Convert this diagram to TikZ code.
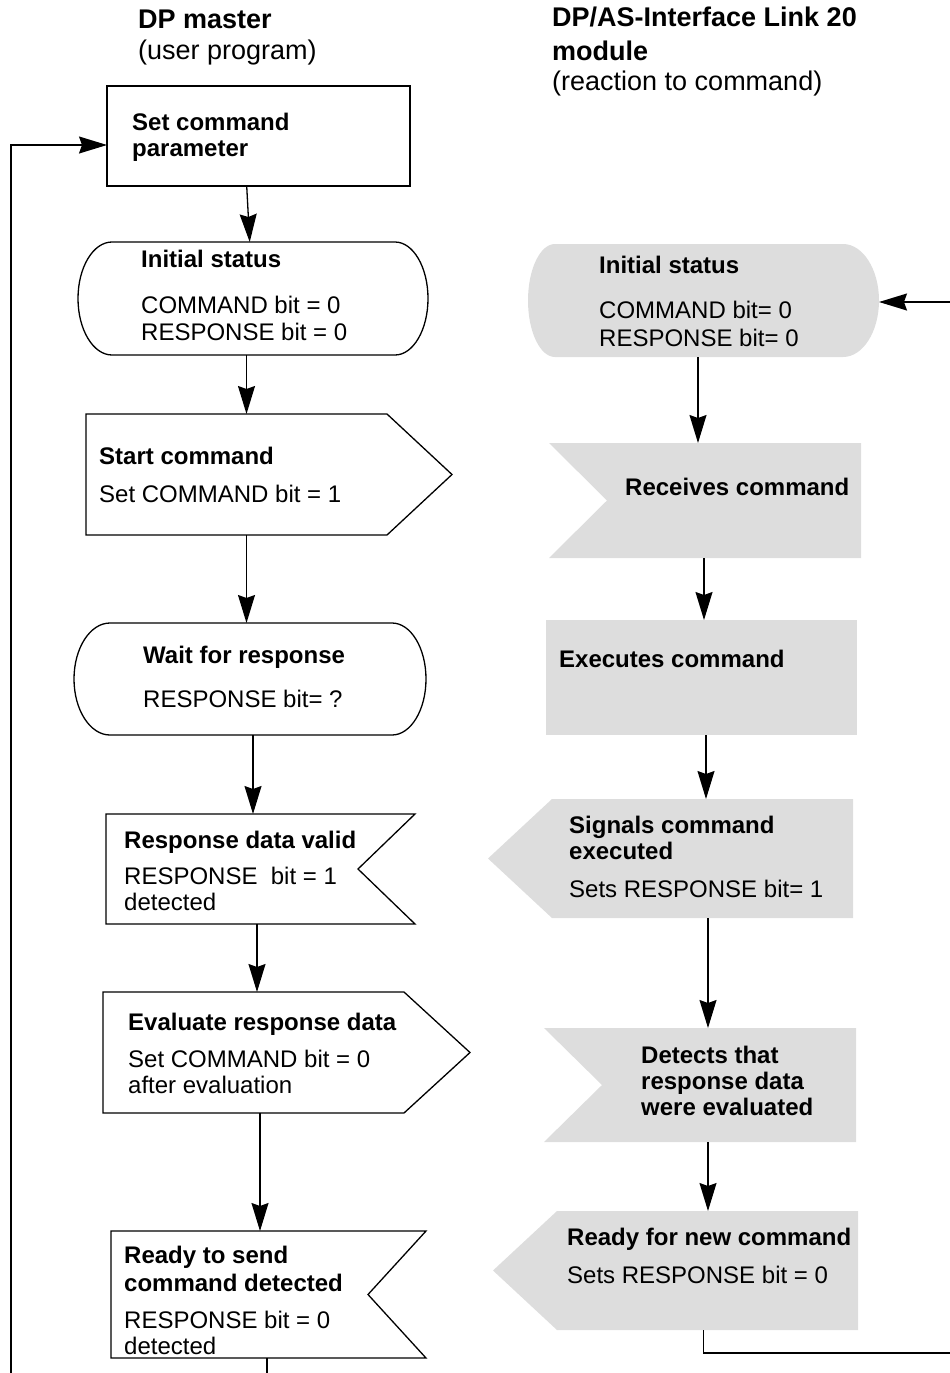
\documentclass[tikz,border=0pt]{standalone}
\usepackage{fontspec}
\setmainfont{Liberation Sans}
\usetikzlibrary{arrows.meta}
\definecolor{lgray}{RGB}{221,221,221}
\begin{document}
\begin{tikzpicture}[x=1pt,y=-1pt,
  outl/.style={draw=black, line width=1.3pt, line join=miter},
  hold/.style={draw=none, inner sep=0pt, outer sep=0pt},
  conn/.style={-{Stealth[length=28pt,width=17pt,inset=3pt]}, line width=1.3pt},
  plain/.style={line width=1.3pt},
  bt/.style={font=\fontsize{24}{26}\selectfont\bfseries, anchor=base west, inner sep=0pt},
  nt/.style={font=\fontsize{24}{26}\selectfont, anchor=base west, inner sep=0pt},
  hbt/.style={font=\fontsize{27}{30}\selectfont\bfseries, anchor=base west, inner sep=0pt},
  hnt/.style={font=\fontsize{27}{30}\selectfont, anchor=base west, inner sep=0pt}]
\useasboundingbox (0,0) rectangle (950,1373);

% ---------- headers ----------
\node[hbt] (h1) at (138,28) {DP master};
\node[hnt] (h2) at (138,59) {(user program)};
\node[hbt] (h3) at (552,27) {DP/AS-Interface Link 20};
\node[hbt] (h4) at (552,60) {module};
\node[hnt] (h5) at (552,90) {(reaction to command)};

% ---------- left column shapes ----------
\node[hold, draw=black, line width=1.3pt, minimum width=303pt, minimum height=100pt] (L1) at (258.5,136) {};
\node[hold, minimum width=350pt, minimum height=113pt] (L2) at (253,298.5) {};
\draw[outl] (112,242) -- (395,242) arc[start angle=90, end angle=-90, x radius=33pt, y radius=56.5pt]
  -- (112,355) arc[start angle=270, end angle=90, x radius=34pt, y radius=56.5pt] -- cycle;
\node[hold, minimum width=366pt, minimum height=121pt] (L3) at (269,474.5) {};
\draw[outl] (86,414) -- (387,414) -- (452,474.5) -- (387,535) -- (86,535) -- cycle;
\node[hold, minimum width=352pt, minimum height=112pt] (L4) at (250,679) {};
\draw[outl] (110,623) -- (392,623) arc[start angle=90, end angle=-90, x radius=34pt, y radius=56pt]
  -- (110,735) arc[start angle=270, end angle=90, x radius=36pt, y radius=56pt] -- cycle;
\node[hold, minimum width=309pt, minimum height=110pt] (L5) at (260.5,869) {};
\draw[outl] (106,814) -- (415,814) -- (358,869) -- (415,924) -- (106,924) -- cycle;
\node[hold, minimum width=367pt, minimum height=121pt] (L6) at (286.5,1052.5) {};
\draw[outl] (103,992) -- (404,992) -- (470,1052.5) -- (404,1113) -- (103,1113) -- cycle;
\node[hold, minimum width=315pt, minimum height=127pt] (L7) at (268.5,1294.5) {};
\draw[outl] (111,1231) -- (426,1231) -- (368,1294.5) -- (426,1358) -- (111,1358) -- cycle;

% ---------- right column shapes ----------
\node[hold, minimum width=351pt, minimum height=113pt] (R1) at (703.5,300.5) {};
\fill[lgray] (555,244) -- (843,244) arc[start angle=90, end angle=-90, x radius=36pt, y radius=56.5pt]
  -- (555,357) arc[start angle=270, end angle=90, x radius=27pt, y radius=56.5pt] -- cycle;
\node[hold, minimum width=312pt, minimum height=115pt] (R2) at (705,500.5) {};
\fill[lgray] (549,443) -- (861,443) -- (861,558) -- (549,558) -- (607,500.5) -- cycle;
\node[hold, fill=lgray, minimum width=311pt, minimum height=115pt] (R3) at (701.5,677.5) {};
\node[hold, minimum width=365pt, minimum height=119pt] (R4) at (670.5,858.5) {};
\fill[lgray] (488,858.5) -- (552,799) -- (853,799) -- (853,918) -- (552,918) -- cycle;
\node[hold, minimum width=312pt, minimum height=114pt] (R5) at (700,1085) {};
\fill[lgray] (544,1028) -- (856,1028) -- (856,1142) -- (544,1142) -- (602,1085) -- cycle;
\node[hold, minimum width=365pt, minimum height=119pt] (R6) at (675.5,1270.5) {};
\fill[lgray] (493,1270.5) -- (557,1211) -- (858,1211) -- (858,1330) -- (557,1330) -- cycle;

% ---------- left texts ----------
\node[bt] (t1) at (132,130) {Set command};
\node[bt] (t2) at (132,156) {parameter};
\node[bt] (t3) at (141,267) {Initial status};
\node[nt] (t4) at (141,313) {COMMAND bit = 0};
\node[nt] (t5) at (141,340) {RESPONSE bit = 0};
\node[bt] (t6) at (99,464) {Start command};
\node[nt] (t7) at (99,502) {Set COMMAND bit = 1};
\node[bt] (t8) at (143,663) {Wait for response};
\node[nt] (t9) at (143,707) {RESPONSE bit= ?};
\node[bt] (t10) at (124,848) {Response data valid};
\node[nt] (t11) at (124,884) {RESPONSE\ \ bit = 1};
\node[nt] (t12) at (124,910) {detected};
\node[bt] (t13) at (128,1030) {Evaluate response data};
\node[nt] (t14) at (128,1067) {Set COMMAND bit = 0};
\node[nt] (t15) at (128,1093) {after evaluation};
\node[bt] (t16) at (124,1263) {Ready to send};
\node[bt] (t17) at (124,1291) {command detected};
\node[nt] (t18) at (124,1328) {RESPONSE bit = 0};
\node[nt] (t19) at (124,1354) {detected};

% ---------- right texts ----------
\node[bt] (u1) at (599,273) {Initial status};
\node[nt] (u2) at (599,318) {COMMAND bit= 0};
\node[nt] (u3) at (599,346) {RESPONSE bit= 0};
\node[bt] (u4) at (625,495) {Receives command};
\node[bt] (u5) at (559,667) {Executes command};
\node[bt] (u6) at (569,833) {Signals command};
\node[bt] (u7) at (569,859) {executed};
\node[nt] (u8) at (569,897) {Sets RESPONSE bit= 1};
\node[bt] (u9) at (641,1063) {Detects that};
\node[bt] (u10) at (641,1089) {response data};
\node[bt] (u11) at (641,1115) {were evaluated};
\node[bt] (u12) at (567,1245) {Ready for new command};
\node[nt] (u13) at (567,1283) {Sets RESPONSE bit = 0};

% ---------- connectors left ----------
\draw[conn] ([xshift=-11.8pt]L1.south) -- ([xshift=-3.3pt]L2.north);
\draw[conn] ([xshift=-6.5pt]L2.south) -- ([xshift=-22.5pt]L3.north);
\draw[conn] ([xshift=-22.5pt]L3.south) -- ([xshift=-3.5pt]L4.north);
\draw[conn] ([xshift=3pt]L4.south) -- ([xshift=-7.5pt]L5.north);
\draw[conn] ([xshift=-3.5pt]L5.south) -- ([xshift=-29.5pt]L6.north);
\draw[conn] ([xshift=-26.5pt]L6.south) -- ([xshift=-8.5pt]L7.north);
\coordinate (lb) at (11,1373);
\draw[conn] (lb) |- ([yshift=-9pt]L1.west);
\coordinate (l7b) at (267,1373);
\draw[plain] ([xshift=-1.5pt]L7.south) -- (l7b);

% ---------- connectors right ----------
\coordinate (rin) at (950,302);
\draw[conn] (rin) -- ([yshift=-1.5pt]R1.east);
\draw[conn] ([xshift=-5.5pt]R1.south) -- ([xshift=-7pt]R2.north);
\draw[conn] ([xshift=-1pt]R2.south) -- ([xshift=2.5pt]R3.north);
\draw[conn] ([xshift=4.5pt]R3.south) -- ([xshift=35.5pt]R4.north);
\draw[conn] ([xshift=37.5pt]R4.south) -- ([xshift=8pt]R5.north);
\draw[conn] ([xshift=8pt]R5.south) -- ([xshift=32.5pt]R6.north);
\coordinate (rb) at (950,1353);
\draw[plain] ([xshift=28pt]R6.south) |- (rb);
\end{tikzpicture}
\end{document}
